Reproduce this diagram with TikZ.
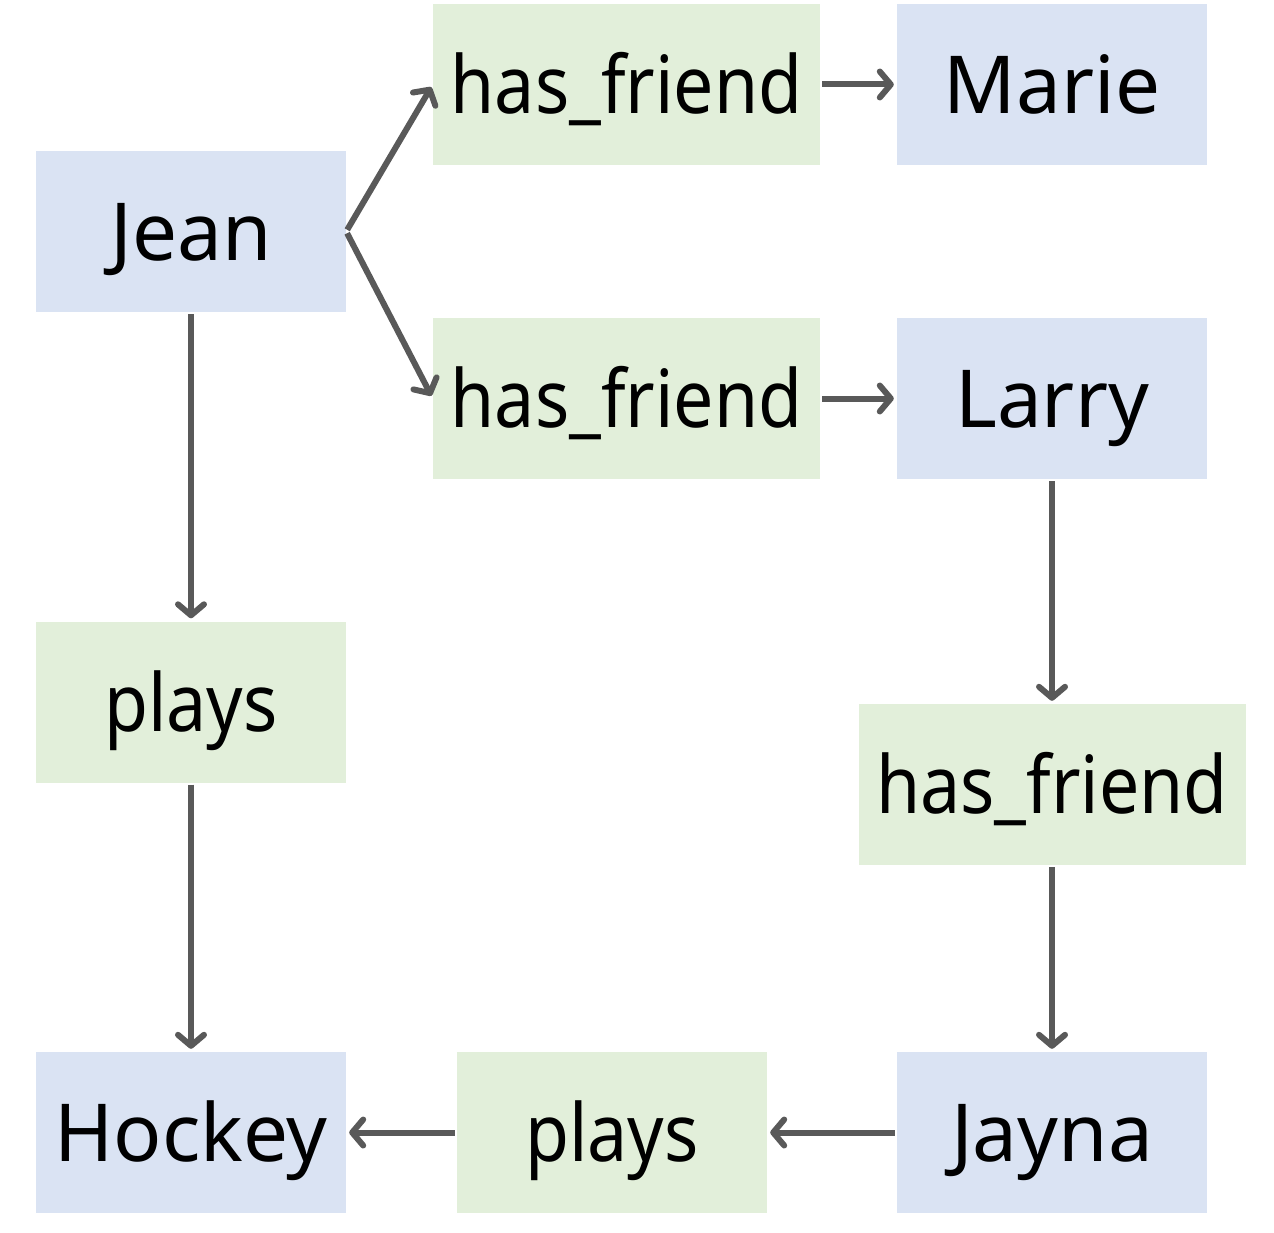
\documentclass[tikz,border=0pt]{standalone}
\usepackage{fontspec}
\setmainfont{Noto Sans}
\newfontfamily\narrowfont[FakeStretch=0.895]{Noto Sans}
\usetikzlibrary{arrows.meta}
\definecolor{entblue}{HTML}{DAE3F3}
\definecolor{relgreen}{HTML}{E2EFDA}
\definecolor{arrowgray}{HTML}{595959}
\begin{document}
\begin{tikzpicture}[x=1pt,y=-1pt,
  box/.style={minimum height=161pt, inner sep=0pt, text height=58pt, text depth=0pt, text=black},
  entity/.style={box, fill=entblue, minimum width=310pt, font=\fontsize{80}{96}\selectfont},
  relation/.style={box, fill=relgreen, minimum width=387pt, font=\narrowfont\fontsize{80}{96}\selectfont},
  relshort/.style={relation, minimum width=310pt},
  conn/.style={draw=arrowgray, line width=6pt, -{Straight Barb[length=11pt,width=26pt,round]}, shorten >=3pt, shorten <=2pt}]
\useasboundingbox (0,0) rectangle (1274,1233);
\node[entity]   (jean)   at (191,231.5)  {Jean};
\node[relation] (hf1)    at (626.5,84.5) {has\_friend};
\node[entity]   (marie)  at (1052,84.5)  {Marie};
\node[relation] (hf2)    at (626.5,398.5){has\_friend};
\node[entity]   (larry)  at (1052,398.5) {Larry};
\node[relshort] (plays1) at (191,702)    {plays};
\node[relation] (hf3)    at (1052,784.5) {has\_friend};
\node[entity]   (hockey) at (191,1132.5) {Hockey};
\node[relshort] (plays2) at (612,1132.5) {plays};
\node[entity]   (jayna)  at (1052,1132.5){Jayna};
\draw[conn] (jean.east) -- (hf1.west);
\draw[conn] (jean.east) -- (hf2.west);
\draw[conn] (hf1) -- (marie);
\draw[conn] (hf2) -- (larry);
\draw[conn] (jean) -- (plays1);
\draw[conn] (plays1) -- (hockey);
\draw[conn] (larry) -- (hf3);
\draw[conn] (hf3) -- (jayna);
\draw[conn] (jayna) -- (plays2);
\draw[conn] (plays2) -- (hockey);
\end{tikzpicture}
\end{document}
